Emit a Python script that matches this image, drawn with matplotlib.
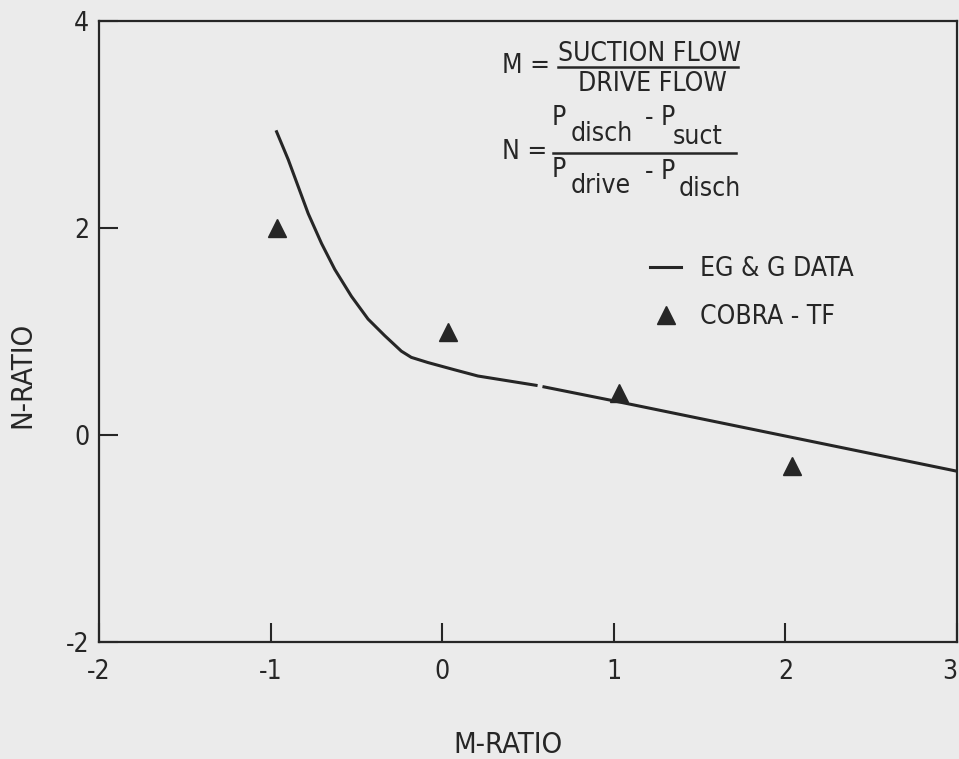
import matplotlib
matplotlib.use("Agg")
from matplotlib import pyplot as plt
from matplotlib.lines import Line2D
import numpy as np

# EG&G measured curve (N vs M); the nan leaves the small break in the drawn line
egg_m = [-0.965, -0.897, -0.839, -0.781, -0.703, -0.626, -0.529, -0.432, -0.335, -0.238,
         -0.18, -0.083, 0.072, 0.208, 0.547, np.nan, 0.593, 1.0, 2.0, 3.0]
egg_n = [2.93, 2.66, 2.40, 2.14, 1.85, 1.60, 1.34, 1.12, 0.96, 0.81,
         0.75, 0.70, 0.63, 0.57, 0.48, np.nan, 0.465, 0.33, -0.01, -0.35]

# COBRA-TF predictions
cobra_m = [-0.965, 0.035, 1.03, 2.04]
cobra_n = [2.0, 1.0, 0.41, -0.30]

x_ticks = [-2, -1, 0, 1, 2, 3]
y_ticks = [-2, 0, 2, 4]

bg = '#ebebeb'
ink = '#262626'
W, H = 959, 759

plt.rcParams['font.family'] = ['DejaVu Sans']
plt.rcParams['font.stretch'] = 'condensed'

fig = plt.figure(figsize=(W / 100, H / 100), dpi=100)
fig.patch.set_facecolor(bg)
ax = fig.add_axes([99 / W, 1 - 642 / H, 858 / W, 621 / H])
ax.set_facecolor(bg)

ax.plot(egg_m, egg_n, color=ink, lw=2.2, label='EG & G DATA')
ax.plot(cobra_m, cobra_n, ls='none', marker='^', ms=13, color=ink, label='COBRA - TF')

ax.set_xlim(-2, 3)
ax.set_ylim(-2, 4)
ax.set_xticks(x_ticks)
ax.set_yticks(y_ticks)
ax.set_xticklabels([str(t) for t in x_ticks])
ax.set_yticklabels([str(t) for t in y_ticks])
ax.tick_params(axis='x', direction='in', length=14, width=1.5, pad=12, labelsize=19, colors=ink)
ax.tick_params(axis='y', direction='in', length=14, width=1.5, pad=7, labelsize=19, colors=ink)
# last x label sits right at the figure edge
ax.get_xticklabels()[-1].set_horizontalalignment('right')
for side in ['top', 'bottom', 'left', 'right']:
    ax.spines[side].set_color(ink)
    ax.spines[side].set_linewidth(1.6)

ax.set_xlabel('M-RATIO', fontsize=21, color=ink)
ax.xaxis.set_label_coords(0.477, -0.143)
ax.set_ylabel('N-RATIO', fontsize=21, color=ink)
ax.yaxis.set_label_coords(-0.073, 0.43)

leg = ax.legend(loc='upper left', bbox_to_anchor=((626 - 99) / 858, (642 - 232) / 621),
                frameon=False, fontsize=19, handlelength=1.2, handletextpad=0.7,
                labelspacing=0.85, labelcolor=ink)


def px(x, y):
    return x / W, 1 - y / H


def put(x, y, s, size=19, ha='left', va='center'):
    fig.text(*px(x, y), s, fontsize=size, color=ink, ha=ha, va=va)


def bar(x0, x1, y):
    fx0, fy = px(x0, y)
    fx1, _ = px(x1, y)
    fig.add_artist(Line2D([fx0, fx1], [fy, fy], color=ink, lw=1.8, transform=fig.transFigure))


# M definition
put(502, 66, 'M =')
put(649, 54, 'SUCTION FLOW', ha='center')
bar(558, 738, 67)
put(652, 84, 'DRIVE FLOW', ha='center')

# N definition
put(502, 152, 'N =')
put(552, 118, 'P')
put(571, 134, 'disch')
put(645, 118, '- P')
put(673, 137, 'suct')
bar(553, 736, 153)
put(552, 170, 'P')
put(571, 186, 'drive')
put(645, 172, '- P')
put(679, 189, 'disch')

fig.savefig('out.png', dpi=100, facecolor=bg)
